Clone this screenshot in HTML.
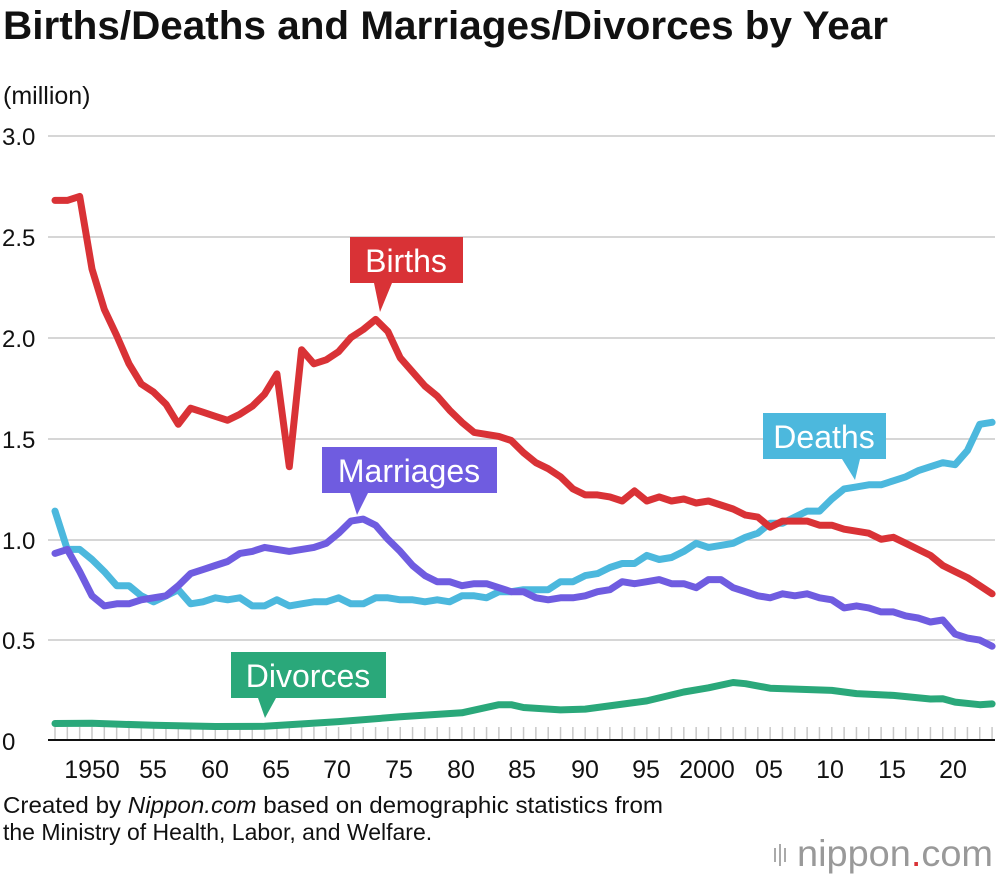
<!DOCTYPE html>
<html><head><meta charset="utf-8"><style>
body{margin:0;background:#fff;width:1000px;height:880px;overflow:hidden;font-family:"Liberation Sans",sans-serif}
</style></head><body>
<svg id="s" width="1000" height="880" xmlns="http://www.w3.org/2000/svg" font-family="Liberation Sans, sans-serif">
<text x="3" y="39" font-size="40" font-weight="bold" fill="#111" textLength="885" lengthAdjust="spacingAndGlyphs">Births/Deaths and Marriages/Divorces by Year</text>
<text x="3" y="104" font-size="25" fill="#111">(million)</text>
<g stroke="#c8c8c8" stroke-width="1.5">
<line x1="48" x2="995" y1="136" y2="136"/><line x1="48" x2="995" y1="237" y2="237"/><line x1="48" x2="995" y1="338" y2="338"/><line x1="48" x2="995" y1="439" y2="439"/><line x1="48" x2="995" y1="540" y2="540"/><line x1="48" x2="995" y1="640" y2="640"/>
</g>
<g id="ticks" stroke="#c8c8c8" stroke-width="1.5"></g>
<line x1="48" x2="995" y1="740" y2="740" stroke="#111" stroke-width="2"/>
<g font-size="24" fill="#111">
<text x="2" y="145">3.0</text><text x="2" y="246">2.5</text><text x="2" y="347">2.0</text><text x="2" y="448">1.5</text><text x="2" y="549">1.0</text><text x="2" y="649">0.5</text><text x="2" y="750">0</text>
</g>
<g font-size="25" fill="#111" text-anchor="middle">
<text x="92" y="778">1950</text><text x="153" y="778">55</text><text x="215" y="778">60</text><text x="276" y="778">65</text><text x="337" y="778">70</text><text x="399" y="778">75</text><text x="461" y="778">80</text><text x="522" y="778">85</text><text x="585" y="778">90</text><text x="646" y="778">95</text><text x="707" y="778">2000</text><text x="769" y="778">05</text><text x="830" y="778">10</text><text x="892" y="778">15</text><text x="953" y="778">20</text>
</g>
<g id="lines" fill="none" stroke-width="7" stroke-linejoin="round" stroke-linecap="round"></g>
<g font-size="32" fill="#fff" text-anchor="middle">
<rect x="350" y="237" width="113" height="46" fill="#d93236"/><polygon points="374,283 392,283 380,312" fill="#d93236"/><text x="406" y="272">Births</text>
<rect x="322" y="447" width="175" height="46" fill="#6f5ce0"/><polygon points="350,493 368,493 357,515" fill="#6f5ce0"/><text x="409" y="482">Marriages</text>
<rect x="763" y="413" width="123" height="46" fill="#4cb8dd"/><polygon points="842,459 860,459 855,480" fill="#4cb8dd"/><text x="824" y="448">Deaths</text>
<rect x="231" y="652" width="155" height="46" fill="#2aa87a"/><polygon points="258,698 276,698 265,718" fill="#2aa87a"/><text x="308" y="687">Divorces</text>
</g>
<text x="3" y="813" font-size="23" fill="#111" textLength="660" lengthAdjust="spacingAndGlyphs">Created by <tspan font-style="italic">Nippon.com</tspan> based on demographic statistics from</text>
<text x="3" y="840" font-size="23" fill="#111">the Ministry of Health, Labor, and Welfare.</text>
<g fill="#aaa"><rect x="774" y="848" width="2" height="14"/><rect x="779" y="844" width="2" height="22"/><rect x="784" y="848" width="2" height="14"/></g>
<text x="797" y="866" font-size="37" fill="#999" textLength="196" lengthAdjust="spacingAndGlyphs">nippon<tspan fill="#d93236">.</tspan>com</text>
</svg>
<script>
var B=[2.68,2.68,2.70,2.34,2.14,2.01,1.87,1.77,1.73,1.67,1.57,1.65,1.63,1.61,1.59,1.62,1.66,1.72,1.82,1.36,1.94,1.87,1.89,1.93,2.00,2.04,2.09,2.03,1.90,1.83,1.76,1.71,1.64,1.58,1.53,1.52,1.51,1.49,1.43,1.38,1.35,1.31,1.25,1.22,1.22,1.21,1.19,1.24,1.19,1.21,1.19,1.20,1.18,1.19,1.17,1.15,1.12,1.11,1.06,1.09,1.09,1.09,1.07,1.07,1.05,1.04,1.03,1.00,1.01,0.98,0.95,0.92,0.87,0.84,0.81,0.77,0.73];
var D=[1.14,0.95,0.95,0.90,0.84,0.77,0.77,0.72,0.69,0.72,0.75,0.68,0.69,0.71,0.70,0.71,0.67,0.67,0.70,0.67,0.68,0.69,0.69,0.71,0.68,0.68,0.71,0.71,0.70,0.70,0.69,0.70,0.69,0.72,0.72,0.71,0.74,0.74,0.75,0.75,0.75,0.79,0.79,0.82,0.83,0.86,0.88,0.88,0.92,0.90,0.91,0.94,0.98,0.96,0.97,0.98,1.01,1.03,1.08,1.08,1.11,1.14,1.14,1.20,1.25,1.26,1.27,1.27,1.29,1.31,1.34,1.36,1.38,1.37,1.44,1.57,1.58];
var M=[0.93,0.95,0.84,0.72,0.67,0.68,0.68,0.70,0.71,0.72,0.77,0.83,0.85,0.87,0.89,0.93,0.94,0.96,0.95,0.94,0.95,0.96,0.98,1.03,1.09,1.10,1.07,1.00,0.94,0.87,0.82,0.79,0.79,0.77,0.78,0.78,0.76,0.74,0.74,0.71,0.70,0.71,0.71,0.72,0.74,0.75,0.79,0.78,0.79,0.80,0.78,0.78,0.76,0.80,0.80,0.76,0.74,0.72,0.71,0.73,0.72,0.73,0.71,0.70,0.66,0.67,0.66,0.64,0.64,0.62,0.61,0.59,0.60,0.53,0.51,0.50,0.47];
var Dk=[[1947,.087],[1950,.088],[1955,.078],[1960,.072],[1964,.073],[1970,.096],[1975,.12],[1980,.14],[1983,.18],[1984,.18],[1985,.166],[1988,.154],[1990,.158],[1995,.199],[1998,.243],[2000,.264],[2002,.29],[2003,.284],[2005,.262],[2010,.251],[2012,.235],[2015,.226],[2018,.208],[2019,.209],[2020,.193],[2022,.18],[2023,.184]];
function X(y){return 55+(y-1947)*12.33}function Y(v){return 741-v*201.7}
function arr(a){var p=[];for(var i=0;i<a.length;i++)p.push(X(1947+i).toFixed(1)+","+Y(a[i]).toFixed(1));return p.join(" ")}
var NS="http://www.w3.org/2000/svg";
var t=document.getElementById("ticks");
for(var y=1947;y<=2023;y++){var l=document.createElementNS(NS,"line");l.setAttribute("x1",X(y));l.setAttribute("x2",X(y));l.setAttribute("y1",727);l.setAttribute("y2",739);t.appendChild(l);}
var g=document.getElementById("lines");
function add(pts,c){var e=document.createElementNS(NS,"polyline");e.setAttribute("points",pts);e.setAttribute("stroke",c);g.appendChild(e)}
add(Dk.map(function(d){return X(d[0]).toFixed(1)+","+Y(d[1]).toFixed(1)}).join(" "),"#2aa87a");
add(arr(D),"#4cb8dd");add(arr(M),"#6f5ce0");add(arr(B),"#d93236");
</script>
</body></html>
